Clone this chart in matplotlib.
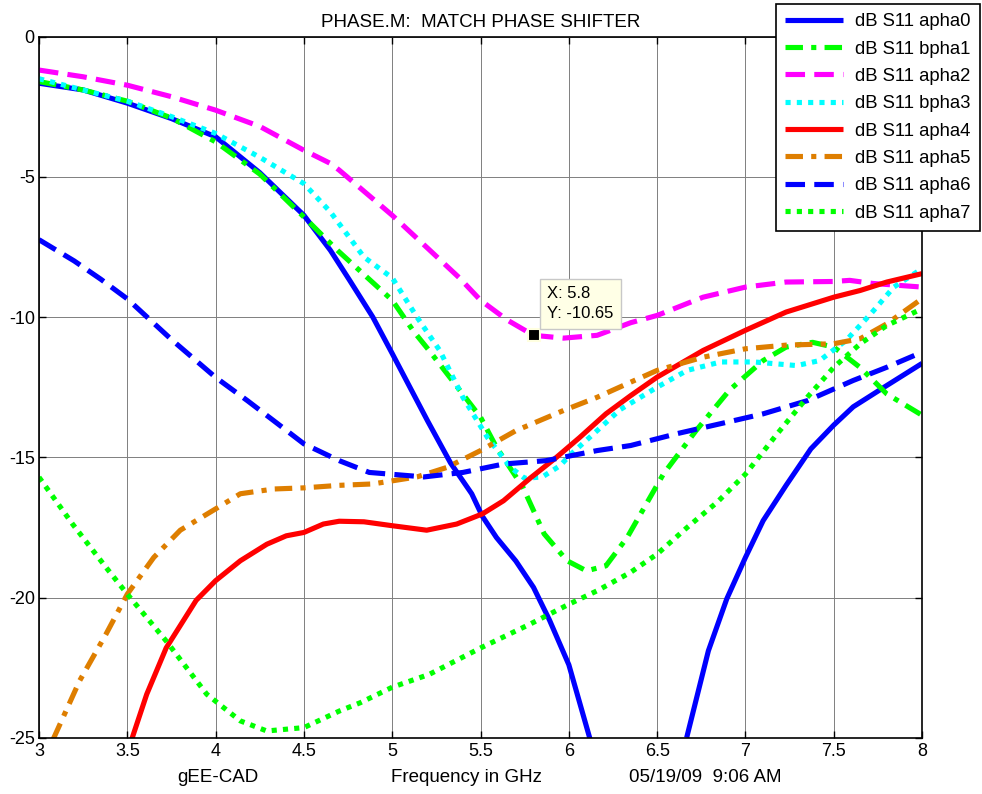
import numpy as np
import matplotlib
matplotlib.use("Agg")
import matplotlib.pyplot as plt

plt.rcParams.update({'font.family': 'Liberation Sans', 'font.size': 13.5,
                     'axes.unicode_minus': False})

# S11 sweeps (dB) for each phase state, read on a 3-8 GHz sweep
nan = np.nan
f0 = [3.0, 3.25, 3.5, 3.75, 4.0, 4.25, 4.5, 4.65, 4.76, 4.89, 5.0, 5.1, 5.2, 5.33, 5.45, 5.51, 5.59, 5.7, 5.8, 5.89, 6.0, 6.12,
      nan, 6.667, 6.79, 6.894, 7.0, 7.1, 7.23, 7.37, 7.5, 7.61, 7.8, 8.0]
s0 = [-1.66, -1.9, -2.37, -2.92, -3.57, -4.85, -6.37, -7.62, -8.7, -10.0, -11.3, -12.5, -13.7, -15.2, -16.3, -17.1, -17.86, -18.7, -19.64, -20.8, -22.4, -25.05,
      nan, -25.0, -21.9, -20.05, -18.57, -17.26, -16.0, -14.7, -13.85, -13.2, -12.44, -11.65]

f1 = [3.0, 3.25, 3.5, 3.75, 4.0, 4.25, 4.5, 4.69, 5.0, 5.12, 5.21, 5.34, 5.5, 5.59, 5.74, 5.86, 5.99, 6.1, 6.21, 6.33,
      6.535, 6.72, 6.91, 7.1, 7.23, 7.38, 7.5, 7.65, 7.8, 8.0]
s1 = [-1.6, -1.9, -2.3, -2.9, -3.75, -4.9, -6.43, -7.62, -9.4, -10.5, -11.2, -12.26, -13.57, -14.64, -16.07, -17.73, -18.69, -19.05, -18.87, -17.86,
      -15.6, -14.05, -12.6, -11.55, -11.07, -10.9, -11.07, -11.8, -12.74, -13.5]

f2 = [3.0, 3.25, 3.5, 3.75, 4.0, 4.25, 4.5, 4.65, 4.7, 5.0, 5.21, 5.38, 5.5, 5.65, 5.8, 5.97, 6.16, 6.35, 6.5, 6.76, 7.0, 7.23, 7.5, 7.59, 7.72, 8.0]
s2 = [-1.19, -1.43, -1.73, -2.14, -2.62, -3.2, -4.05, -4.52, -4.76, -6.37, -7.6, -8.6, -9.4, -10.1, -10.65, -10.75, -10.65, -10.2, -9.94, -9.29, -8.93, -8.75, -8.73, -8.69, -8.8, -8.93]

f3 = [3.0, 3.25, 3.5, 3.75, 4.0, 4.25, 4.5, 4.65, 4.84, 5.0, 5.14, 5.27, 5.4, 5.54, 5.67, 5.75, 5.85, 5.95, 6.01, 6.16, 6.29,
      6.5, 6.67, 6.86, 7.05, 7.29, 7.42, 7.57, 7.71, 7.84, 8.0]
s3 = [-1.5, -1.9, -2.3, -2.85, -3.45, -4.3, -5.24, -6.25, -7.86, -8.6, -10.0, -11.2, -12.86, -14.3, -15.36, -15.75, -15.7, -15.3, -14.9, -14.05, -13.3,
      -12.5, -11.9, -11.6, -11.6, -11.73, -11.55, -10.83, -9.88, -8.93, -8.27]

f4 = [3.525, 3.61, 3.72, 3.89, 4.0, 4.14, 4.29, 4.4, 4.5, 4.61, 4.7, 4.84, 5.0, 5.195, 5.365, 5.51, 5.63, 5.78, 5.93, 6.06,
      6.21, 6.35, 6.5, 6.76, 7.0, 7.23, 7.5, 7.65, 7.8, 8.0]
s4 = [-25.06, -23.45, -21.8, -20.1, -19.4, -18.69, -18.1, -17.8, -17.68, -17.38, -17.28, -17.3, -17.44, -17.6, -17.38, -17.02, -16.55, -15.75, -15.0, -14.3,
      -13.45, -12.8, -12.14, -11.19, -10.47, -9.82, -9.29, -9.05, -8.75, -8.45]

f5 = [3.08, 3.23, 3.38, 3.5, 3.65, 3.8, 4.0, 4.14, 4.33, 4.5, 4.7, 4.89, 5.14, 5.31, 5.5, 5.7, 5.97, 6.16, 6.35, 6.5,
      6.76, 7.0, 7.23, 7.5, 7.65, 7.8, 8.0]
s5 = [-25.06, -22.97, -21.3, -19.88, -18.57, -17.6, -16.84, -16.3, -16.13, -16.09, -16.0, -15.95, -15.7, -15.36, -14.76, -14.05, -13.33, -12.86, -12.32, -11.9,
      -11.43, -11.13, -11.0, -10.95, -10.77, -10.24, -9.34]

f6 = [3.0, 3.2, 3.35, 3.5, 3.75, 4.0, 4.18, 4.33, 4.5, 4.7, 4.87, 5.18, 5.4, 5.63, 5.87, 6.16, 6.35, 6.61, 6.86, 7.1, 7.35, 7.61, 7.8, 8.0]
s6 = [-7.24, -8.0, -8.65, -9.35, -10.8, -12.15, -12.98, -13.7, -14.52, -15.12, -15.54, -15.7, -15.54, -15.24, -15.12, -14.76, -14.58, -14.16, -13.8, -13.45, -12.98, -12.26, -11.79, -11.25]

f7 = [3.0, 3.19, 3.38, 3.5, 3.72, 3.95, 4.14, 4.29, 4.5, 4.7, 4.82, 5.0, 5.21, 5.5, 5.78, 6.0, 6.16, 6.35, 6.5, 6.67,
      6.84, 7.0, 7.18, 7.35, 7.5, 7.65, 7.8, 8.0]
s7 = [-15.71, -17.38, -18.93, -19.88, -21.55, -23.45, -24.4, -24.76, -24.64, -24.05, -23.75, -23.2, -22.74, -21.8, -20.95, -20.24, -19.76, -19.1, -18.45, -17.5,
      -16.6, -15.6, -14.16, -12.86, -11.79, -10.95, -10.3, -9.7]

labels = ['dB S11 apha0', 'dB S11 bpha1', 'dB S11 apha2', 'dB S11 bpha3',
          'dB S11 apha4', 'dB S11 apha5', 'dB S11 apha6', 'dB S11 apha7']

tip_x, tip_y = 5.8, -10.65

dashdot = (0, (3.4, 1.6, 1.0, 1.6))
dotted = (0, (1.0, 1.2))
dashed = (0, (3.8, 1.8))
styles = [
    ('#0000FF', '-'),
    ('#00FF00', dashdot),
    ('#FF00FF', dashed),
    ('#00FFFF', dotted),
    ('#FF0000', '-'),
    ('#DE7E00', dashdot),
    ('#0000FF', dashed),
    ('#00FF00', dotted),
]

fig = plt.figure(figsize=(9.82, 7.94), dpi=100)
ax = fig.add_axes([0.0397, 0.0709, 0.8993, 0.8829])

series = [(f0, s0), (f1, s1), (f2, s2), (f3, s3), (f4, s4), (f5, s5), (f6, s6), (f7, s7)]
for (f, s), (c, ls), lab in zip(series, styles, labels):
    ax.plot(f, s, color=c, linestyle=ls, lw=3.7, label=lab, solid_capstyle='butt', dash_capstyle='butt')

ax.set_xlim(3, 8)
ax.set_ylim(-25, 0)
ax.set_xticks(np.arange(3, 8.01, 0.5))
ax.set_xticklabels(['3', '3.5', '4', '4.5', '5', '5.5', '6', '6.5', '7', '7.5', '8'])
ax.set_yticks([-25, -20, -15, -10, -5, 0])
ax.tick_params(direction='in', top=True, right=True, length=5, width=1, labelsize=13)
ax.tick_params(axis='x', pad=4)
ax.tick_params(axis='y', pad=3)
ax.grid(True, color='#7f7f7f', lw=0.7)
ax.set_axisbelow(True)
for sp in ax.spines.values():
    sp.set_linewidth(1.2)

ax.set_title('PHASE.M:  MATCH PHASE SHIFTER', fontsize=13.5, pad=7)

# data cursor on the apha2 minimum
ax.plot([tip_x], [tip_y], marker='s', ms=8, color='black', mec='#FFFFE0', mew=1.5, zorder=5)
ax.annotate('X: %.1f\nY: %.2f' % (tip_x, tip_y), xy=(tip_x, tip_y), xytext=(10, 10),
            textcoords='offset points', ha='left', va='bottom', fontsize=12, linespacing=1.45,
            bbox=dict(boxstyle='square,pad=0.45', fc='#FFFFE6', ec='#C8C8C8', lw=1), zorder=6)

# bottom caption line
fig.text(218 / 982, 1 - 777 / 794, 'gEE-CAD', ha='center', va='center', fontsize=13.5)
fig.text(466 / 982, 1 - 777 / 794, 'Frequency in GHz', ha='center', va='center', fontsize=13.5)
fig.text(705 / 982, 1 - 777 / 794, '05/19/09  9:06 AM', ha='center', va='center', fontsize=13.5)

leg = fig.legend(loc='upper right', bbox_to_anchor=(980 / 982, 1 - 4 / 794), fontsize=13.3,
                 frameon=True, fancybox=False, edgecolor='black', framealpha=1,
                 handlelength=3.15, handletextpad=0.65, labelspacing=0.56, borderpad=0.5,
                 borderaxespad=0)
leg.get_frame().set_linewidth(1.2)

fig.savefig('out.png', dpi=100)
